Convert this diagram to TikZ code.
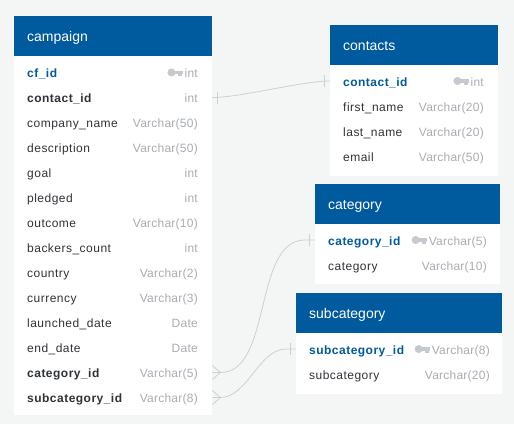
\documentclass[tikz,border=0pt]{standalone}
\usepackage{fontspec}
\setmainfont{Liberation Sans}[LetterSpace=4]
\newfontfamily\titlefont{Liberation Sans}
\newfontfamily\typefont{Liberation Sans}[LetterSpace=2]
\usetikzlibrary{positioning}
\definecolor{pagegray}{HTML}{F4F6F6}
\definecolor{headblue}{HTML}{005A9E}
\definecolor{rowdark}{HTML}{2F3338}
\definecolor{typegray}{HTML}{A9ADB2}
\definecolor{keygray}{HTML}{C6C9CD}
\definecolor{linkgray}{HTML}{CDD0D0}
\tikzset{
    tablehead/.style={fill=headblue, text=white, anchor=north west, minimum height=40pt, inner xsep=13pt, inner ysep=0pt, text height=12pt, text depth=1pt, align=left, font=\titlefont\fontsize{14}{16}\selectfont},
    tablebody/.style={fill=white, anchor=north west, inner sep=0pt},
    rowname/.style={anchor=west, inner sep=0pt, text height=11pt, text depth=1pt, text=rowdark, font=\fontsize{12}{14}\selectfont},
    keyname/.style={rowname, text=headblue, font=\fontsize{12}{14}\selectfont\bfseries},
    fkname/.style={rowname, font=\fontsize{12}{14}\selectfont\bfseries},
    rowtype/.style={anchor=east, inner sep=0pt, text height=11pt, text depth=1pt, text=typegray, font=\typefont\fontsize{12}{14}\selectfont},
    link/.style={draw=linkgray, line width=0.8pt},
    keyicon/.pic={
        \fill[keygray] (-13,0) circle (4pt);
        \fill[keygray] (-10,-1.7) rectangle (-1.5,1.5);
        \fill[keygray] (-6.5,1) rectangle (-2.5,3.5);
    },
}
\newcommand{\barmark}[2]{\draw[link] ([xshift=#2pt,yshift=-6pt]#1) -- ([xshift=#2pt,yshift=6pt]#1);}
\begin{document}
\begin{tikzpicture}[x=1pt,y=-1pt]
    \useasboundingbox[fill=pagegray] (0,0) rectangle (514,424);
    % campaign
    \node[tablebody, minimum width=198pt, minimum height=399pt] (campaignbody) at (14,16) {};
    \node[tablehead, minimum width=198pt, text width=172pt] (campaign) at (14,16) {campaign};
    \foreach \nr/\rowtext/\rowstyle/\rowkind in {
        1/cf\_id/keyname/int,
        2/contact\_id/fkname/int,
        3/company\_name/rowname/Varchar(50),
        4/description/rowname/Varchar(50),
        5/goal/rowname/int,
        6/pledged/rowname/int,
        7/outcome/rowname/Varchar(10),
        8/backers\_count/rowname/int,
        9/country/rowname/Varchar(2),
        10/currency/rowname/Varchar(3),
        11/launched\_date/rowname/Date,
        12/end\_date/rowname/Date,
        13/category\_id/fkname/Varchar(5),
        14/subcategory\_id/fkname/Varchar(8)} {
        \node[\rowstyle] (campaign\nr) at (27,47.5+25*\nr) {\rowtext};
        \node[rowtype] (campaigntype\nr) at (198,47.5+25*\nr) {\rowkind};
    }
    % contacts
    \node[tablebody, minimum width=168pt, minimum height=151pt] (contactsbody) at (330,25) {};
    \node[tablehead, minimum width=168pt, text width=142pt] (contacts) at (330,25) {contacts};
    \foreach \nr/\rowtext/\rowstyle/\rowkind in {
        1/contact\_id/keyname/int,
        2/first\_name/rowname/Varchar(20),
        3/last\_name/rowname/Varchar(20),
        4/email/rowname/Varchar(50)} {
        \node[\rowstyle] (contacts\nr) at (343,56+25*\nr) {\rowtext};
        \node[rowtype] (contactstype\nr) at (484,56+25*\nr) {\rowkind};
    }
    % category
    \node[tablebody, minimum width=185pt, minimum height=100pt] (categorybody) at (315,184) {};
    \node[tablehead, minimum width=185pt, text width=159pt] (category) at (315,184) {category};
    \foreach \nr/\rowtext/\rowstyle/\rowkind in {
        1/category\_id/keyname/Varchar(5),
        2/category/rowname/Varchar(10)} {
        \node[\rowstyle] (category\nr) at (328,215+25*\nr) {\rowtext};
        \node[rowtype] (categorytype\nr) at (487,215+25*\nr) {\rowkind};
    }
    % subcategory
    \node[tablebody, minimum width=206pt, minimum height=101pt] (subcategorybody) at (296,293) {};
    \node[tablehead, minimum width=206pt, text width=180pt] (subcategory) at (296,293) {subcategory};
    \foreach \nr/\rowtext/\rowstyle/\rowkind in {
        1/subcategory\_id/keyname/Varchar(8),
        2/subcategory/rowname/Varchar(20)} {
        \node[\rowstyle] (subcategory\nr) at (309,324+25*\nr) {\rowtext};
        \node[rowtype] (subcategorytype\nr) at (490,324+25*\nr) {\rowkind};
    }
    % keys
    \path (campaigntype1.west) pic {keyicon};
    \path (contactstype1.west) pic {keyicon};
    \path (categorytype1.west) pic {keyicon};
    \path (subcategorytype1.west) pic {keyicon};
    % ends of the links
    \coordinate (contactfk) at (campaignbody.east |- campaign2);
    \coordinate (categoryfk) at (campaignbody.east |- campaign13);
    \coordinate (subcategoryfk) at (campaignbody.east |- campaign14);
    \coordinate (contactpk) at (contactsbody.west |- contacts1);
    \coordinate (categorypk) at (categorybody.west |- category1);
    \coordinate (subcategorypk) at (subcategorybody.west |- subcategory1);
    % links
    \draw[link] (contactfk) to[out=0, in=180, looseness=0.6] (contactpk);
    \draw[link] (categoryfk) -- ++(8,0) to[out=0, in=180, looseness=0.85] ([xshift=-10pt]categorypk) -- (categorypk);
    \draw[link] (subcategoryfk) -- ++(8,0) to[out=0, in=180, looseness=0.85] ([xshift=-10pt]subcategorypk) -- (subcategorypk);
    % bars and crow's feet
    \barmark{contactfk}{5}
    \barmark{contactpk}{-6}
    \barmark{categorypk}{-6}
    \barmark{subcategorypk}{-6}
    \draw[link] ([yshift=7pt]categoryfk) -- ++(8,7) -- ++(-8,7);
    \draw[link] ([yshift=7pt]subcategoryfk) -- ++(8,7) -- ++(-8,7);
\end{tikzpicture}
\end{document}
